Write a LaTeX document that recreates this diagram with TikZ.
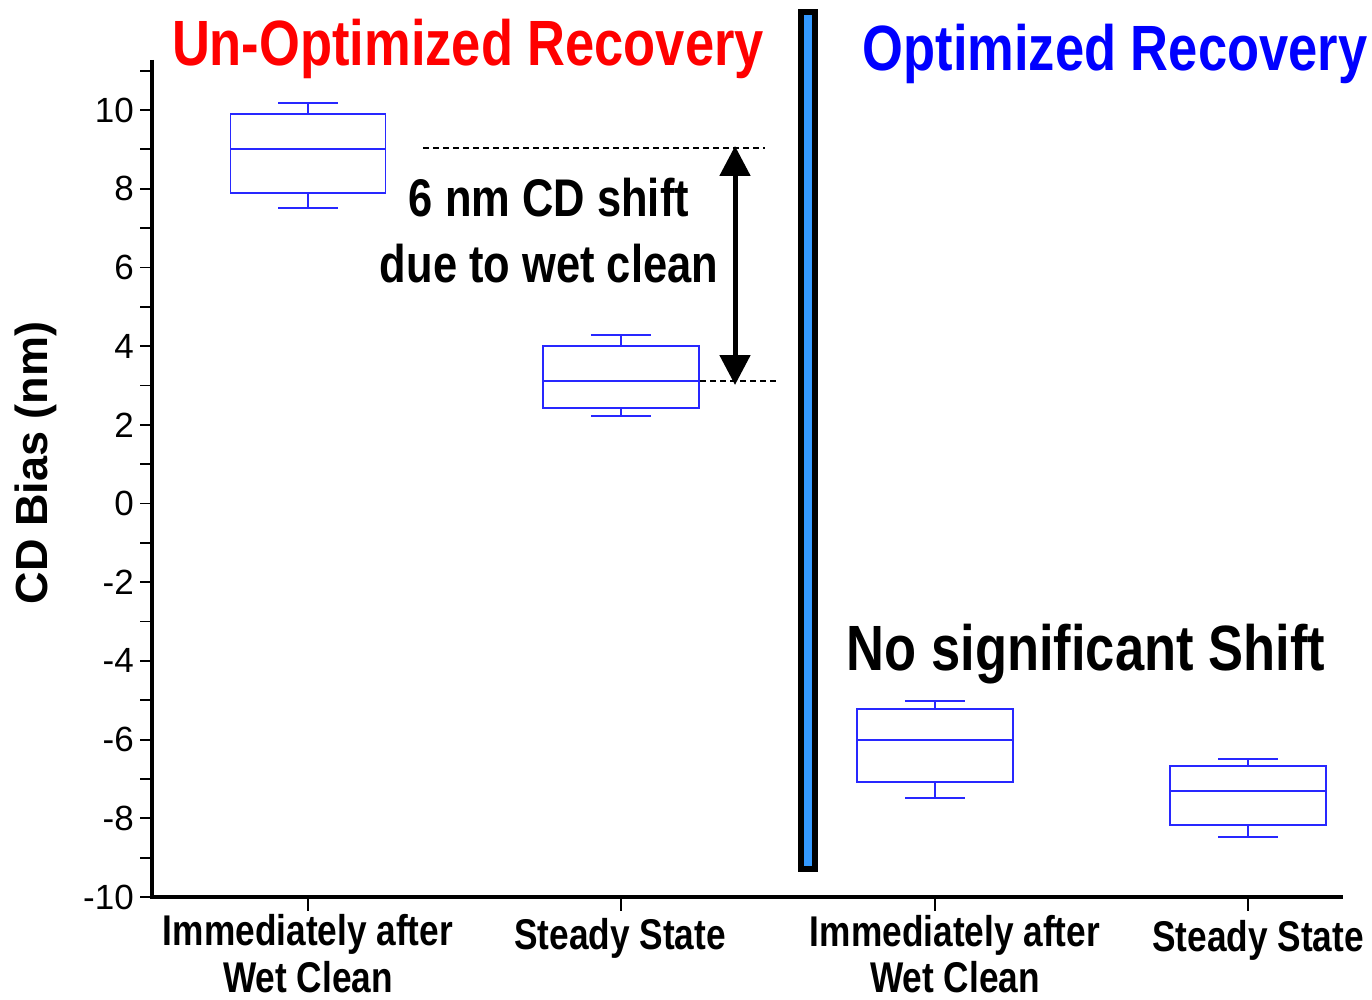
\documentclass[tikz,border=0pt]{standalone}
\usepackage{fontspec}
\setmainfont{Liberation Sans}
\newfontfamily\narrowf[FakeStretch=0.82]{Liberation Sans}
\usetikzlibrary{arrows.meta}
\definecolor{plotblue}{RGB}{40,40,255}
\definecolor{barblue}{RGB}{51,153,255}
\definecolor{titlered}{RGB}{255,0,0}
\definecolor{titleblue}{RGB}{0,0,255}
\tikzset{
  bp/.style={draw=plotblue, line width=1.6pt},
  axisline/.style={line width=3.5pt},
  tickline/.style={line width=1.8pt},
  ticklab/.style={anchor=east, inner sep=0pt, font=\fontsize{35}{40}\selectfont},
  titletxt/.style={anchor=base, inner sep=0pt, font=\narrowf\bfseries\fontsize{64}{70}\selectfont},
  bigtxt/.style={anchor=base, inner sep=0pt, font=\narrowf\bfseries\fontsize{53}{60}\selectfont},
  catlab/.style={anchor=base, inner sep=0pt, text depth=0pt, font=\narrowf\bfseries\fontsize{43}{48}\selectfont},
  dash line/.style={dashed, dash pattern=on 6pt off 4pt, line width=1.2pt},
}
\newcommand\mybox[7]{% xc, whisker top, q3, median, q1, whisker bottom, half width
  \draw[bp] ({#1-#7},#3) rectangle ({#1+#7},#5);
  \draw[bp] ({#1-#7},#4) -- ({#1+#7},#4);
  \draw[bp] (#1,#3) -- (#1,#2);
  \draw[bp] (#1,#5) -- (#1,#6);
  \draw[bp] ({#1-30},#2) -- ({#1+30},#2);
  \draw[bp] ({#1-30},#6) -- ({#1+30},#6);
}
\begin{document}
\begin{tikzpicture}[x=1pt,y=-1pt]
\useasboundingbox (0,0) rectangle (1372,1000);
\fill[white] (0,0) rectangle (1372,1000);

% axes
\coordinate (o) at (152,897);
\coordinate (ytop) at (152,60);
\coordinate (xend) at (1343,897);
\draw[axisline] (ytop) -- (o) -- (xend);

% y ticks
\foreach \v in {-10,-8,...,10} {
  \pgfmathsetmacro\yy{110+(10-\v)*39.35}
  \draw[tickline] (140,\yy) -- (152,\yy);
  \node[ticklab] at (134,\yy) {\v};
}
\foreach \v in {-9,-7,...,11} {
  \pgfmathsetmacro\yy{110+(10-\v)*39.35}
  \draw[tickline] (140,\yy) -- (152,\yy);
}
% x ticks
\foreach \xx in {308,621,935,1248} {
  \draw[tickline] (\xx,897) -- (\xx,911);
}

% y label
\node[rotate=90, inner sep=0pt, font=\bfseries\fontsize{45}{50}\selectfont] (ylab) at (36,463) {CD Bias (nm)};

% boxes
\mybox{308}{103}{114}{149}{193}{208}{77.5}
\mybox{621}{335}{346}{381}{408}{416}{78}
\mybox{935}{701}{709}{740}{782}{798}{78}
\mybox{1248}{759}{766}{791}{825}{837}{78}

% divider
\draw[line width=6pt, fill=barblue] (801,12) rectangle (815,869);

% dashed reference lines and arrow
\coordinate (d1a) at (423,148);
\coordinate (d1b) at (765,148);
\coordinate (d2a) at (700,381);
\coordinate (d2b) at (778,381);
\draw[dash line] (d1a) -- (d1b);
\draw[dash line] (d2a) -- (d2b);
\coordinate (atop) at (735,146);
\coordinate (abot) at (735,385);
\draw[line width=5pt, {Triangle[width=30pt,length=30pt]}-{Triangle[width=30pt,length=30pt]}] (atop) -- (abot);

% titles
\node[titletxt, text=titlered] (t1) at (468,66) {Un-Optimized Recovery};
\node[titletxt, text=titleblue] (t2) at (1115,71) {Optimized Recovery};

% annotations
\node[bigtxt] (s1) at (549,217) {6 nm CD shift};
\node[bigtxt] (s2) at (549,282) {due to wet clean};
\node[titletxt] (ns) at (1086,670) {No significant Shift};

% category labels
\node[catlab] (c1a) at (308,945) {Immediately after};
\node[catlab] (c1b) at (308,992) {Wet Clean};
\node[catlab] (c2) at (620,949) {Steady State};
\node[catlab] (c3a) at (955,946) {Immediately after};
\node[catlab] (c3b) at (955,992) {Wet Clean};
\node[catlab] (c4) at (1258,951) {Steady State};
\end{tikzpicture}
\end{document}
